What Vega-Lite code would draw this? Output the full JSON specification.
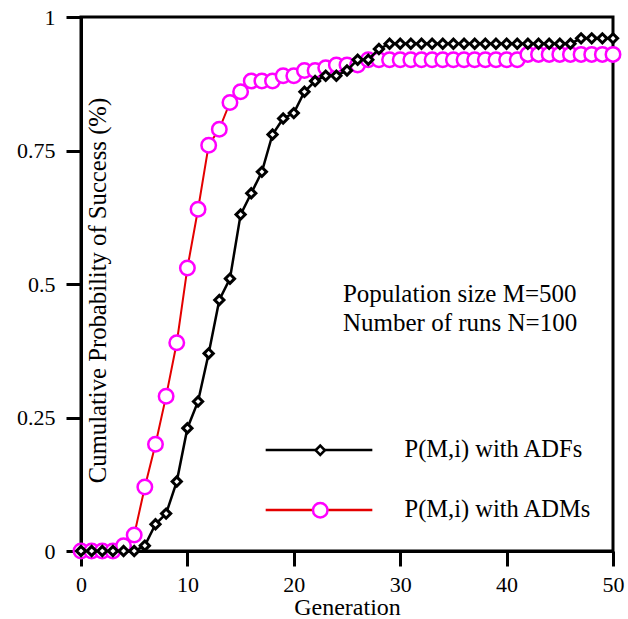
{
  "$schema": "https://vega.github.io/schema/vega-lite/v6.json",
  "width": 532,
  "height": 534,
  "autosize": {"type": "none"},
  "padding": {"left": 81, "top": 17, "right": 15, "bottom": 68},
  "background": "white",
  "config": {
    "font": "Liberation Serif",
    "view": {"stroke": "black", "strokeWidth": 3},
    "axis": {
      "grid": false,
      "domainColor": "black",
      "domainWidth": 3,
      "tickColor": "black",
      "tickWidth": 3,
      "tickSize": 15,
      "labelColor": "black",
      "labelFont": "Liberation Serif",
      "labelFontSize": 22,
      "labelFlush": false,
      "titleFont": "Liberation Serif",
      "titleFontSize": 24.7,
      "titleFontWeight": "normal",
      "titleColor": "black"
    },
    "legend": {"labelFont": "Liberation Serif", "labelColor": "black", "labelLimit": 400}
  },
  "data": {
    "values": [
      {"s": "ADFs", "g": 0, "p": 0}, {"s": "ADFs", "g": 1, "p": 0}, {"s": "ADFs", "g": 2, "p": 0}, {"s": "ADFs", "g": 3, "p": 0},
      {"s": "ADFs", "g": 4, "p": 0}, {"s": "ADFs", "g": 5, "p": 0}, {"s": "ADFs", "g": 6, "p": 0.01}, {"s": "ADFs", "g": 7, "p": 0.05},
      {"s": "ADFs", "g": 8, "p": 0.07}, {"s": "ADFs", "g": 9, "p": 0.13}, {"s": "ADFs", "g": 10, "p": 0.23}, {"s": "ADFs", "g": 11, "p": 0.28},
      {"s": "ADFs", "g": 12, "p": 0.37}, {"s": "ADFs", "g": 13, "p": 0.47}, {"s": "ADFs", "g": 14, "p": 0.51}, {"s": "ADFs", "g": 15, "p": 0.63},
      {"s": "ADFs", "g": 16, "p": 0.67}, {"s": "ADFs", "g": 17, "p": 0.71}, {"s": "ADFs", "g": 18, "p": 0.78}, {"s": "ADFs", "g": 19, "p": 0.81},
      {"s": "ADFs", "g": 20, "p": 0.82}, {"s": "ADFs", "g": 21, "p": 0.86}, {"s": "ADFs", "g": 22, "p": 0.88}, {"s": "ADFs", "g": 23, "p": 0.89},
      {"s": "ADFs", "g": 24, "p": 0.89}, {"s": "ADFs", "g": 25, "p": 0.9}, {"s": "ADFs", "g": 26, "p": 0.92}, {"s": "ADFs", "g": 27, "p": 0.92},
      {"s": "ADFs", "g": 28, "p": 0.94}, {"s": "ADFs", "g": 29, "p": 0.95}, {"s": "ADFs", "g": 30, "p": 0.95}, {"s": "ADFs", "g": 31, "p": 0.95},
      {"s": "ADFs", "g": 32, "p": 0.95}, {"s": "ADFs", "g": 33, "p": 0.95}, {"s": "ADFs", "g": 34, "p": 0.95}, {"s": "ADFs", "g": 35, "p": 0.95},
      {"s": "ADFs", "g": 36, "p": 0.95}, {"s": "ADFs", "g": 37, "p": 0.95}, {"s": "ADFs", "g": 38, "p": 0.95}, {"s": "ADFs", "g": 39, "p": 0.95},
      {"s": "ADFs", "g": 40, "p": 0.95}, {"s": "ADFs", "g": 41, "p": 0.95}, {"s": "ADFs", "g": 42, "p": 0.95}, {"s": "ADFs", "g": 43, "p": 0.95},
      {"s": "ADFs", "g": 44, "p": 0.95}, {"s": "ADFs", "g": 45, "p": 0.95}, {"s": "ADFs", "g": 46, "p": 0.95}, {"s": "ADFs", "g": 47, "p": 0.96},
      {"s": "ADFs", "g": 48, "p": 0.96}, {"s": "ADFs", "g": 49, "p": 0.96}, {"s": "ADFs", "g": 50, "p": 0.96},
      {"s": "ADMs", "g": 0, "p": 0}, {"s": "ADMs", "g": 1, "p": 0}, {"s": "ADMs", "g": 2, "p": 0}, {"s": "ADMs", "g": 3, "p": 0},
      {"s": "ADMs", "g": 4, "p": 0.01}, {"s": "ADMs", "g": 5, "p": 0.03}, {"s": "ADMs", "g": 6, "p": 0.12}, {"s": "ADMs", "g": 7, "p": 0.2},
      {"s": "ADMs", "g": 8, "p": 0.29}, {"s": "ADMs", "g": 9, "p": 0.39}, {"s": "ADMs", "g": 10, "p": 0.53}, {"s": "ADMs", "g": 11, "p": 0.64},
      {"s": "ADMs", "g": 12, "p": 0.76}, {"s": "ADMs", "g": 13, "p": 0.79}, {"s": "ADMs", "g": 14, "p": 0.84}, {"s": "ADMs", "g": 15, "p": 0.86},
      {"s": "ADMs", "g": 16, "p": 0.88}, {"s": "ADMs", "g": 17, "p": 0.88}, {"s": "ADMs", "g": 18, "p": 0.88}, {"s": "ADMs", "g": 19, "p": 0.89},
      {"s": "ADMs", "g": 20, "p": 0.89}, {"s": "ADMs", "g": 21, "p": 0.9}, {"s": "ADMs", "g": 22, "p": 0.9}, {"s": "ADMs", "g": 23, "p": 0.905},
      {"s": "ADMs", "g": 24, "p": 0.91}, {"s": "ADMs", "g": 25, "p": 0.91}, {"s": "ADMs", "g": 26, "p": 0.91}, {"s": "ADMs", "g": 27, "p": 0.92},
      {"s": "ADMs", "g": 28, "p": 0.92}, {"s": "ADMs", "g": 29, "p": 0.92}, {"s": "ADMs", "g": 30, "p": 0.92}, {"s": "ADMs", "g": 31, "p": 0.92},
      {"s": "ADMs", "g": 32, "p": 0.92}, {"s": "ADMs", "g": 33, "p": 0.92}, {"s": "ADMs", "g": 34, "p": 0.92}, {"s": "ADMs", "g": 35, "p": 0.92},
      {"s": "ADMs", "g": 36, "p": 0.92}, {"s": "ADMs", "g": 37, "p": 0.92}, {"s": "ADMs", "g": 38, "p": 0.92}, {"s": "ADMs", "g": 39, "p": 0.92},
      {"s": "ADMs", "g": 40, "p": 0.92}, {"s": "ADMs", "g": 41, "p": 0.92}, {"s": "ADMs", "g": 42, "p": 0.93}, {"s": "ADMs", "g": 43, "p": 0.93},
      {"s": "ADMs", "g": 44, "p": 0.93}, {"s": "ADMs", "g": 45, "p": 0.93}, {"s": "ADMs", "g": 46, "p": 0.93}, {"s": "ADMs", "g": 47, "p": 0.93},
      {"s": "ADMs", "g": 48, "p": 0.93}, {"s": "ADMs", "g": 49, "p": 0.93}, {"s": "ADMs", "g": 50, "p": 0.93}
    ]
  },
  "encoding": {
    "x": {
      "field": "g", "type": "quantitative",
      "scale": {"domain": [0, 50], "nice": false},
      "axis": {"values": [0, 10, 20, 30, 40, 50], "title": "Generation", "tickSize": 15, "labelPadding": 8, "titleBaseline": "alphabetic", "titleY": 63, "titleFontSize": 24}
    },
    "y": {
      "field": "p", "type": "quantitative",
      "scale": {"domain": [0, 1], "nice": false},
      "axis": {"values": [0, 0.25, 0.5, 0.75, 1], "labelExpr": "datum.value + ''", "title": "Cumulative Probability of Success (%)", "tickSize": 15, "labelPadding": 11, "titleAngle": -90, "titleAlign": "center", "titleBaseline": "alphabetic", "titleX": 24, "titleY": 273}
    }
  },
  "layer": [
    {
      "transform": [{"filter": "datum.s == 'ADMs'"}],
      "mark": {"type": "line", "strokeWidth": 2},
      "encoding": {
        "color": {"field": "s", "type": "nominal", "scale": {"domain": ["ADMs", "ADFs"], "range": ["#e40000", "black"]},
          "legend": {"orient": "none", "legendX": 226, "legendY": 421, "title": null, "padding": 0, "values": ["ADFs", "ADMs"], "symbolType": "M-5,0L5,0", "symbolSize": 455, "symbolStrokeWidth": 2.5, "labelExpr": "''", "rowPadding": 43}}
      }
    },
    {
      "transform": [{"filter": "datum.s == 'ADMs'"}],
      "mark": {"type": "point", "fill": "white", "filled": false, "strokeWidth": 2.5, "opacity": 1},
      "encoding": {
        "shape": {"field": "s", "type": "nominal", "scale": {"domain": ["ADFs", "ADMs"], "range": ["diamond", "circle"]},
          "legend": {"orient": "none", "legendX": 227, "legendY": 421, "title": null, "padding": 0, "labelExpr": "'P(M,i) with ' + datum.label", "labelFontSize": 24.5, "labelOffset": 72, "rowPadding": 35, "symbolStrokeWidth": 2.5, "symbolFillColor": "white"}},
        "stroke": {"field": "s", "type": "nominal", "scale": {"domain": ["ADFs", "ADMs"], "range": ["black", "#ff00ff"]},
          "legend": {"orient": "none", "legendX": 227, "legendY": 421, "title": null, "padding": 0, "labelExpr": "'P(M,i) with ' + datum.label", "labelFontSize": 24.5, "labelOffset": 72, "rowPadding": 35, "symbolStrokeWidth": 2.5, "symbolFillColor": "white"}},
        "size": {"field": "s", "type": "nominal", "scale": {"domain": ["ADFs", "ADMs"], "range": [85, 210]},
          "legend": {"orient": "none", "legendX": 227, "legendY": 421, "title": null, "padding": 0, "labelExpr": "'P(M,i) with ' + datum.label", "labelFontSize": 24.5, "labelOffset": 72, "rowPadding": 35, "symbolStrokeWidth": 2.5, "symbolFillColor": "white"}}
      }
    },
    {
      "transform": [{"filter": "datum.s == 'ADFs'"}],
      "mark": {"type": "line", "strokeWidth": 2.5},
      "encoding": {
        "color": {"field": "s", "type": "nominal", "scale": {"domain": ["ADMs", "ADFs"], "range": ["#e40000", "black"]},
          "legend": {"orient": "none", "legendX": 226, "legendY": 421, "title": null, "padding": 0, "values": ["ADFs", "ADMs"], "symbolType": "M-5,0L5,0", "symbolSize": 455, "symbolStrokeWidth": 2.5, "labelExpr": "''", "rowPadding": 43}}
      }
    },
    {
      "transform": [{"filter": "datum.s == 'ADFs'"}],
      "mark": {"type": "point", "fill": "white", "filled": false, "strokeWidth": 3, "opacity": 1},
      "encoding": {
        "shape": {"field": "s", "type": "nominal", "scale": {"domain": ["ADFs", "ADMs"], "range": ["diamond", "circle"]},
          "legend": {"orient": "none", "legendX": 227, "legendY": 421, "title": null, "padding": 0, "labelExpr": "'P(M,i) with ' + datum.label", "labelFontSize": 24.5, "labelOffset": 72, "rowPadding": 35, "symbolStrokeWidth": 2.5, "symbolFillColor": "white"}},
        "stroke": {"field": "s", "type": "nominal", "scale": {"domain": ["ADFs", "ADMs"], "range": ["black", "#ff00ff"]},
          "legend": {"orient": "none", "legendX": 227, "legendY": 421, "title": null, "padding": 0, "labelExpr": "'P(M,i) with ' + datum.label", "labelFontSize": 24.5, "labelOffset": 72, "rowPadding": 35, "symbolStrokeWidth": 2.5, "symbolFillColor": "white"}},
        "size": {"field": "s", "type": "nominal", "scale": {"domain": ["ADFs", "ADMs"], "range": [85, 210]},
          "legend": {"orient": "none", "legendX": 227, "legendY": 421, "title": null, "padding": 0, "labelExpr": "'P(M,i) with ' + datum.label", "labelFontSize": 24.5, "labelOffset": 72, "rowPadding": 35, "symbolStrokeWidth": 2.5, "symbolFillColor": "white"}}
      }
    },
    {
      "transform": [{"filter": "datum.s == 'ADFs' && datum.g == 0"}],
      "mark": {"type": "text", "text": ["Population size M=500", "Number of runs N=100"], "align": "left", "baseline": "alphabetic", "fontSize": 25, "lineHeight": 29, "font": "Liberation Serif", "color": "black"},
      "encoding": {
        "x": {"datum": 24.62},
        "y": {"datum": 0.466}
      }
    }
  ]
}
